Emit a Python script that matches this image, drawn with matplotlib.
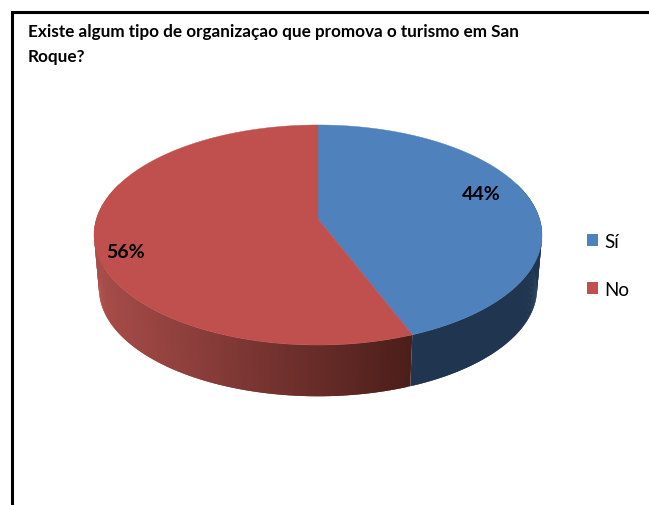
import numpy as np
import matplotlib
matplotlib.use("Agg")
import matplotlib.pyplot as plt

TITLE_LINES = ["Existe algum tipo de organizaçao que promova o turismo em San", "Roque?"]
CATEGORIES = ["Sí", "No"]
SHARES = [44, 56]
TOP_COLORS = ["#4f81bd", "#c0504d"]
SIDE_LEFT = ["#1f3550", "#a94d4a"]
SIDE_RIGHT = ["#1f3550", "#4c1e1a"]

plt.rcParams["font.family"] = ["Lato", "DejaVu Sans"]

# disc in slight perspective, centre of the pie is not centre of the ellipse
CX, CY = 318, 220
A, B, K = 221.6, 107.7, 0.1455
# lower rim is a bit smaller, it sits further from the viewer
BOTTOM_CY, BOTTOM_SCALE = 274, 0.978


def project(theta, cy=CY, scale=1.0):
    x = np.sin(theta)
    y = -np.cos(theta)
    w = 1 - K * y
    return CX + scale * A * x / w, cy + scale * B * y / w


fig = plt.figure(figsize=(6.49, 5.06), dpi=100)
ax = fig.add_axes([0, 0, 1, 1])
ax.set_xlim(0, 649)
ax.set_ylim(506, 0)
ax.axis("off")

# frame
ax.plot([11.5, 11.5, 649], [506, 12.5, 12.5], color="black", lw=2.2, solid_joinstyle="miter")

fractions = np.array(SHARES) / sum(SHARES)
edges = np.concatenate([[0], np.cumsum(fractions)]) * 2 * np.pi

# side wall, the back part is hidden by the top surface anyway
for i in range(len(SHARES)):
    theta = np.linspace(edges[i], edges[i + 1], 300)
    theta = theta[np.cos(theta) < 0.35]
    xs, ys = project(theta)
    xb, yb = project(theta, BOTTOM_CY, BOTTOM_SCALE)
    left = np.array(matplotlib.colors.to_rgb(SIDE_LEFT[i]))
    right = np.array(matplotlib.colors.to_rgb(SIDE_RIGHT[i]))
    for j in range(len(theta) - 2):
        t = np.clip((xs[j] - 94) / (412 - 94), 0, 1)
        c = left + (right - left) * t
        ax.fill(
            [xs[j], xs[j + 2], xb[j + 2], xb[j]],
            [ys[j], ys[j + 2], yb[j + 2], yb[j]],
            color=c, lw=0,
        )

# top surface
for i in range(len(SHARES)):
    theta = np.linspace(edges[i], edges[i + 1], 400)
    xs, ys = project(theta)
    ax.fill(np.r_[CX, xs], np.r_[CY, ys], color=TOP_COLORS[i], lw=0.3)

for i, line in enumerate(TITLE_LINES):
    ax.text(28, 32 + i * 25, line, fontsize=12.3, fontweight="bold", color="black", va="center")

ax.text(481, 195, f"{SHARES[0]}%", fontsize=14, fontweight="bold", ha="center", va="center")
ax.text(126, 252, f"{SHARES[1]}%", fontsize=14, fontweight="bold", ha="center", va="center")

legend_y = [241, 289]
for label, color, y in zip(CATEGORIES, TOP_COLORS, legend_y):
    ax.fill([587, 598, 598, 587], [y - 6, y - 6, y + 6, y + 6], color=color, lw=0)
    ax.text(604, y + 1.5, label, fontsize=13.5, va="center", color="black")

fig.savefig("out.png", dpi=100)
